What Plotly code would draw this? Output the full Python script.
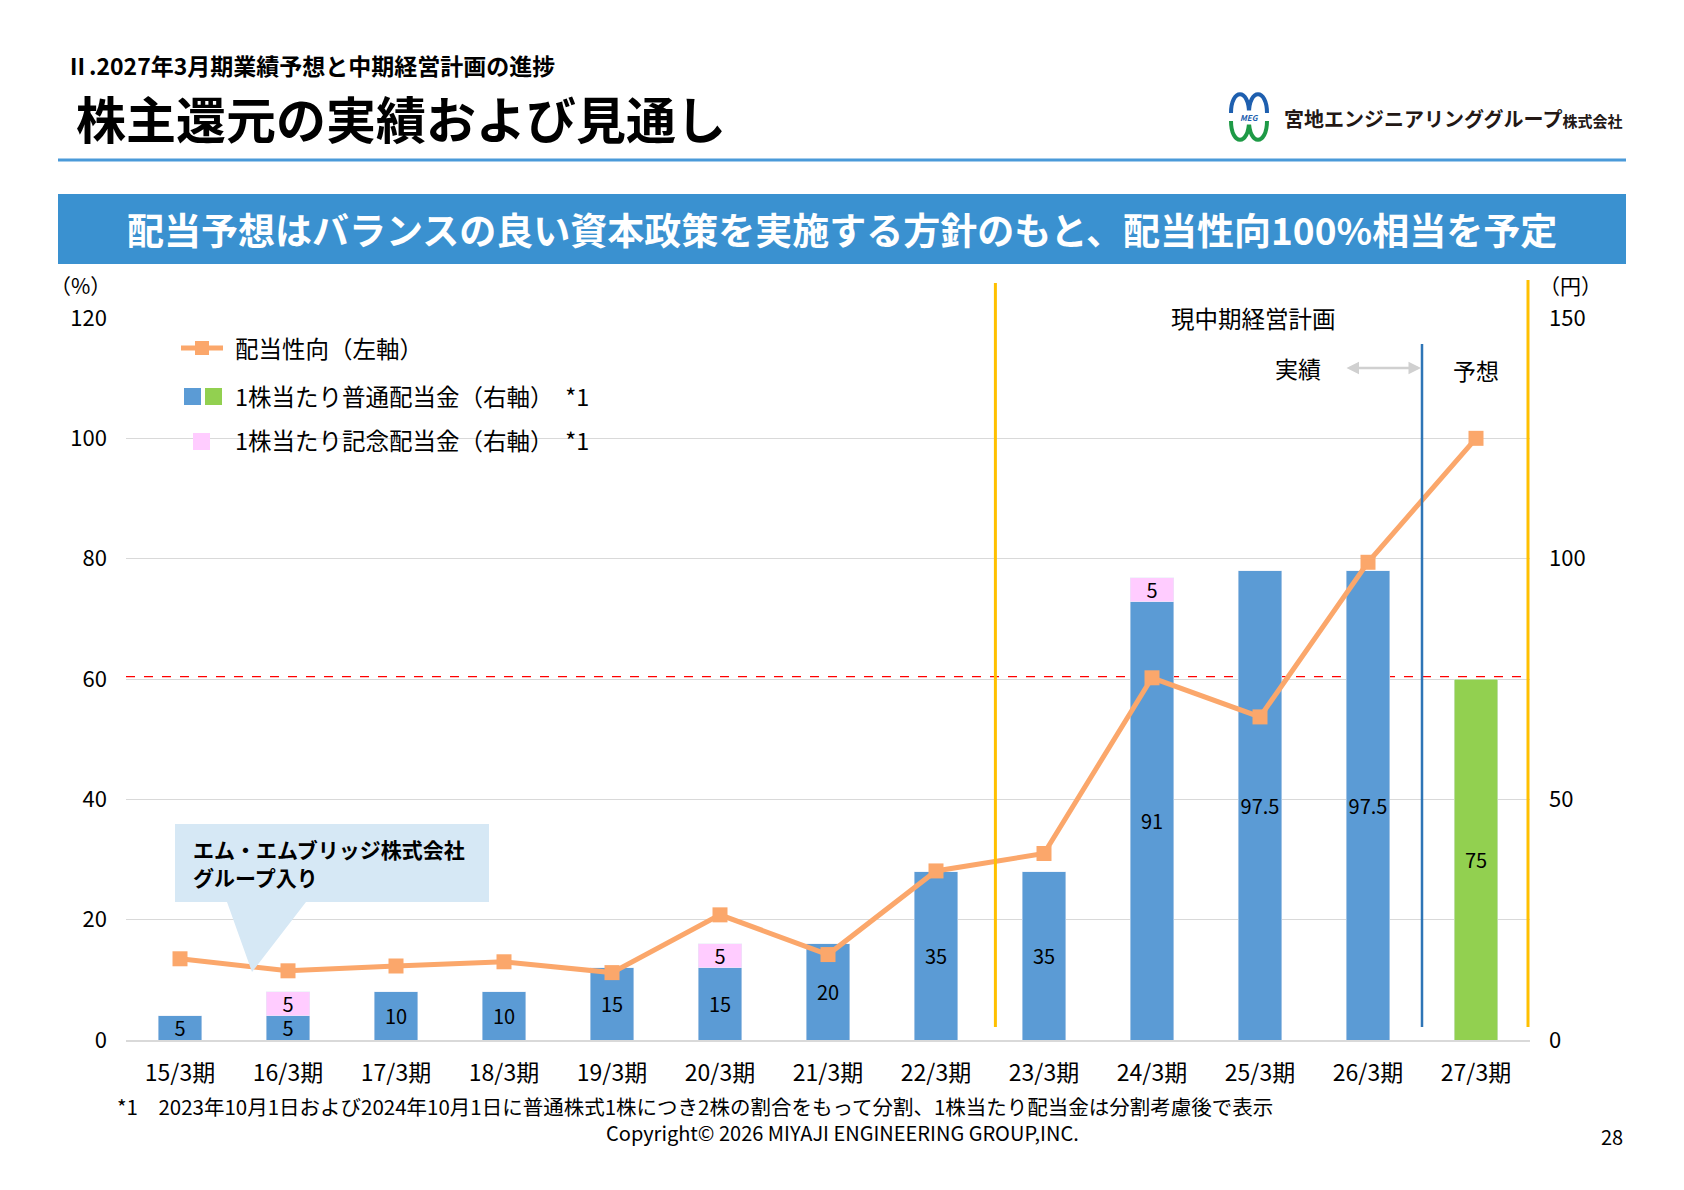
import plotly.graph_objects as go

# ---- data ----
periods = ['15/3期', '16/3期', '17/3期', '18/3期', '19/3期', '20/3期', '21/3期',
           '22/3期', '23/3期', '24/3期', '25/3期', '26/3期', '27/3期']
regular_div = [5, 5, 10, 10, 15, 15, 20, 35, 35, 91, 97.5, 97.5, 75]
memorial_div = [None, 5, None, None, None, 5, None, None, None, 5, None, None, None]
payout_ratio = [13.5, 11.5, 12.3, 13.0, 11.2, 20.8, 14.2, 28.1, 31.0, 60.2, 53.7, 79.4, 100.0]
left_ticks = [0, 20, 40, 60, 80, 100, 120]
right_ticks = [0, 50, 100, 150]
payout_ref = 60.4   # red dashed reference line (left axis)

FONT = 'Noto Sans CJK JP'
BLUE = '#5B9BD5'
GREEN = '#92D050'
PINK = '#FFCCFF'
ORANGE = '#FBA76B'

# screen geometry (px) of the plot area
OFF = 8                      # browser body margin
W, H = 1684 - 2 * OFF, 1190 - 2 * OFF
X0, X1, Y0, Y1 = 126, 1530, 318, 1040


def px(x):
    return (x - X0) / (X1 - X0)


def py(y):
    return (Y1 - y) / (Y1 - Y0)


bar_colors = [BLUE] * (len(periods) - 1) + [GREEN]

fig = go.Figure()

fig.add_trace(go.Bar(x=periods, y=regular_div, width=0.4, marker_color=bar_colors,
                     texttemplate='%{y}', textposition='inside',
                     insidetextanchor='middle', textangle=0, constraintext='none',
                     textfont=dict(color='black', size=20, family=FONT),
                     yaxis='y', showlegend=False))
fig.add_trace(go.Bar(x=periods, y=memorial_div, width=0.4, marker_color=PINK,
                     texttemplate='%{y}', textposition='inside',
                     insidetextanchor='middle', textangle=0, constraintext='none',
                     textfont=dict(color='black', size=20, family=FONT),
                     yaxis='y', showlegend=False))
fig.add_trace(go.Scatter(x=periods, y=payout_ratio, mode='lines+markers',
                         line=dict(color=ORANGE, width=5),
                         marker=dict(symbol='square', size=15, color=ORANGE),
                         yaxis='y2', showlegend=False))

shapes = []
ann = []

# header
shapes.append(dict(type='line', xref='paper', yref='paper', x0=px(58), x1=px(1626),
                   y0=py(160), y1=py(160), line=dict(color='#4A9AD9', width=3)))
shapes.append(dict(type='rect', xref='paper', yref='paper', x0=px(58), x1=px(1626),
                   y0=py(194), y1=py(264), fillcolor='#3A91D0', line=dict(width=0)))
ann.append(dict(text='<b>Ⅱ.2027年3月期業績予想と中期経営計画の進捗</b>', x=px(64), y=py(65),
                xanchor='left', yanchor='middle', font=dict(size=23, color='black')))
ann.append(dict(text='<b>株主還元の実績および見通し</b>', x=px(74), y=py(117),
                xanchor='left', yanchor='middle', font=dict(size=50, color='black')))
ann.append(dict(text='<b>配当予想はバランスの良い資本政策を実施する方針のもと、配当性向100%相当を予定</b>',
                x=px(842), y=py(229), xanchor='center', yanchor='middle',
                font=dict(size=37, color='white')))

# logo
ann.append(dict(text='<b>宮地エンジニアリンググループ</b><span style="font-size:15px"><b>株式会社</b></span>',
                x=px(1282), y=py(118), xanchor='left', yanchor='middle',
                font=dict(size=20, color='#231815')))
for cx in (1240, 1258):
    shapes.append(dict(type='path', xref='paper', yref='paper',
                       path='M %f,%f C %f,%f %f,%f %f,%f' % (px(cx - 9), py(113), px(cx - 9), py(88),
                                                             px(cx + 9), py(88), px(cx + 9), py(113)),
                       line=dict(color='#1E5FAF', width=4)))
    shapes.append(dict(type='path', xref='paper', yref='paper',
                       path='M %f,%f C %f,%f %f,%f %f,%f' % (px(cx - 9), py(121), px(cx - 9), py(146),
                                                             px(cx + 9), py(146), px(cx + 9), py(121)),
                       line=dict(color='#1E9A46', width=4)))
ann.append(dict(text='<i><b>MEG</b></i>', x=px(1249), y=py(117), xanchor='center', yanchor='middle',
                font=dict(size=8, color='#1E5FAF'), bgcolor='white'))

# axis unit labels
ann.append(dict(text='（%）', x=px(80), y=py(285), xanchor='center', yanchor='middle',
                font=dict(size=21, color='black')))
ann.append(dict(text='（円）', x=px(1570), y=py(285), xanchor='center', yanchor='middle',
                font=dict(size=21, color='black')))

# plan period markers
shapes.append(dict(type='line', xref='paper', yref='paper', x0=(7.55 + 0.5) / 13, x1=(7.55 + 0.5) / 13,
                   y0=py(1027), y1=py(283), line=dict(color='#FFC000', width=3)))
shapes.append(dict(type='line', xref='paper', yref='paper', x0=px(1528), x1=px(1528),
                   y0=py(1027), y1=py(280), line=dict(color='#FFC000', width=3)))
shapes.append(dict(type='line', xref='paper', yref='paper', x0=12 / 13, x1=12 / 13,
                   y0=py(1027), y1=py(344), line=dict(color='#2E75B6', width=2.5)))
shapes.append(dict(type='line', xref='paper', yref='y2', x0=0, x1=1, y0=payout_ref, y1=payout_ref,
                   layer='below', line=dict(color='#FF0000', width=1.2, dash='dash')))

ann.append(dict(text='現中期経営計画', x=px(1253), y=py(318), xanchor='center', yanchor='middle',
                font=dict(size=23.5, color='black')))
ann.append(dict(text='実績', x=px(1298), y=py(368), xanchor='center', yanchor='middle',
                font=dict(size=23, color='black')))
ann.append(dict(text='予想', x=px(1476), y=py(370), xanchor='center', yanchor='middle',
                font=dict(size=23, color='black')))
ann.append(dict(text='', x=px(1421), y=py(368), ax=-76, ay=0, showarrow=True,
                arrowside='end+start', arrowhead=2, arrowsize=1, arrowwidth=2.5,
                arrowcolor='#D0D0D0'))

# legend
shapes.append(dict(type='line', xref='paper', yref='paper', x0=px(181), x1=px(223),
                   y0=py(348), y1=py(348), line=dict(color=ORANGE, width=5)))
shapes.append(dict(type='rect', xref='paper', yref='paper', x0=px(195), x1=px(209),
                   y0=py(341), y1=py(355), fillcolor=ORANGE, line=dict(width=0)))
shapes.append(dict(type='rect', xref='paper', yref='paper', x0=px(184), x1=px(201),
                   y0=py(388), y1=py(405), fillcolor=BLUE, line=dict(width=0)))
shapes.append(dict(type='rect', xref='paper', yref='paper', x0=px(205), x1=px(222),
                   y0=py(388), y1=py(405), fillcolor=GREEN, line=dict(width=0)))
shapes.append(dict(type='rect', xref='paper', yref='paper', x0=px(193), x1=px(210),
                   y0=py(433), y1=py(450), fillcolor=PINK, line=dict(width=0)))
for txt, yy in [('配当性向（左軸）', 348), ('1株当たり普通配当金（右軸）　*1', 396),
                ('1株当たり記念配当金（右軸）　*1', 440)]:
    ann.append(dict(text=txt, x=px(233), y=py(yy), xanchor='left', yanchor='middle',
                    font=dict(size=23.5, color='black')))

# callout
pts = [(175, 824), (489, 824), (489, 902), (306, 902), (252, 972), (227, 902), (175, 902)]
path = 'M ' + ' L '.join('%f,%f' % (px(a), py(b)) for a, b in pts) + ' Z'
shapes.append(dict(type='path', xref='paper', yref='paper', path=path,
                   fillcolor='#D6E8F5', line=dict(width=0)))
ann.append(dict(text='<b>エム・エムブリッジ株式会社</b>', x=px(191), y=py(849), xanchor='left',
                yanchor='middle', font=dict(size=21, color='black')))
ann.append(dict(text='<b>グループ入り</b>', x=px(191), y=py(877), xanchor='left',
                yanchor='middle', font=dict(size=21, color='black')))

# footer
ann.append(dict(text='*1　2023年10月1日および2024年10月1日に普通株式1株につき2株の割合をもって分割、1株当たり配当金は分割考慮後で表示',
                x=px(115), y=py(1106), xanchor='left', yanchor='middle',
                font=dict(size=20.5, color='black')))
ann.append(dict(text='Copyright© 2026 MIYAJI ENGINEERING GROUP,INC.', x=px(842), y=py(1132),
                xanchor='center', yanchor='middle', font=dict(size=20, color='black')))
ann.append(dict(text='28', x=px(1625), y=py(1136), xanchor='right', yanchor='middle',
                font=dict(size=20, color='black')))

for a in ann:
    a.setdefault('xref', 'paper')
    a.setdefault('yref', 'paper')
    a.setdefault('showarrow', False)

fig.update_layout(
    width=W, height=H, autosize=False,
    margin=dict(l=X0 - OFF, r=(W + OFF) - X1, t=Y0 - OFF, b=(H + OFF) - Y1, pad=0),
    paper_bgcolor='white', plot_bgcolor='white',
    font=dict(family=FONT, color='black'),
    barmode='stack',
    xaxis=dict(type='category', range=[-0.5, len(periods) - 0.5], showgrid=False,
               showline=True, linecolor='#D9D9D9', linewidth=2, ticks='',
               tickfont=dict(size=23), ticklabelstandoff=11),
    yaxis=dict(side='right', range=[0, 150], tickvals=right_ticks, showgrid=False,
               zeroline=False, ticks='', tickfont=dict(size=22), ticklabelstandoff=18,
               automargin=False),
    yaxis2=dict(side='left', overlaying='y', range=[0, 120], tickvals=left_ticks,
                showgrid=True, gridcolor='#D9D9D9', gridwidth=1, zeroline=False, ticks='',
                tickfont=dict(size=22), ticklabelstandoff=18, automargin=False),
    shapes=shapes, annotations=ann,
)

fig.write_html("out.html")
